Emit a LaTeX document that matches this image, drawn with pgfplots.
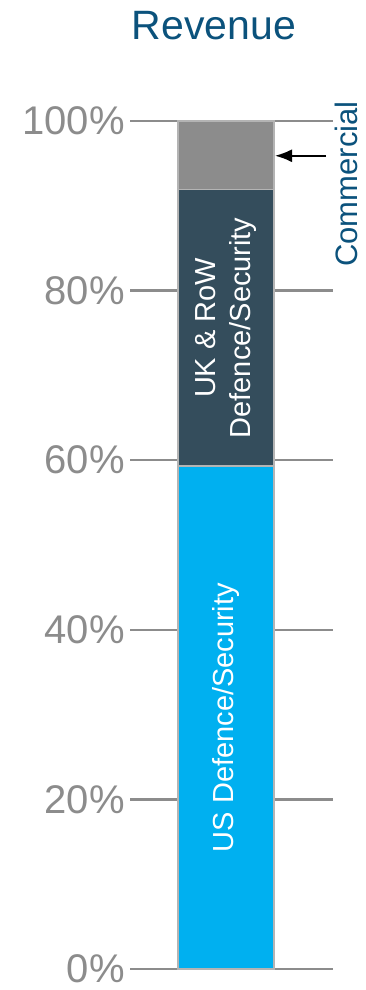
\documentclass[border=0pt]{standalone}
\usepackage{fontspec}
\setmainfont{Liberation Sans}
\usepackage{pgfplots}
\pgfplotsset{compat=1.18}
\usetikzlibrary{arrows.meta}
\definecolor{revblue}{HTML}{0B527C}
\definecolor{gridgray}{HTML}{8C8C8C}
\definecolor{comgray}{HTML}{8C8C8C}
\definecolor{ukdark}{HTML}{344D5C}
\definecolor{uscyan}{HTML}{00B0F0}
\definecolor{edgegray}{HTML}{B4B4B4}
\begin{document}
\begin{tikzpicture}
\path[use as bounding box] (0,0) rectangle (366bp,990bp);
\node[text=revblue, font=\fontsize{41bp}{48bp}\selectfont] at (214bp,964bp) {Revenue};
\node[text=revblue, rotate=90, font=\fontsize{31bp}{36bp}\selectfont] at (346bp,806bp) {Commercial};
\begin{axis}[
  at={(130bp,21bp)}, anchor=south west,
  scale only axis, width=203bp, height=848bp,
  xmin=0, xmax=203, ymin=0, ymax=100,
  clip=false,
  axis line style={draw=none},
  tick style={draw=none},
  xtick=\empty,
  ytick={0,20,40,60,80,100},
  yticklabels={0\%,20\%,40\%,60\%,80\%,100\%},
  yticklabel style={text=gridgray, font=\fontsize{40bp}{48bp}\selectfont, inner sep=0pt, xshift=-5bp},
  ymajorgrids,
  grid style={draw=gridgray, line width=2.5bp},
  ybar stacked, bar width=96bp, bar shift=0pt,
]
\addplot[fill=uscyan, draw=edgegray, line width=1.5bp] coordinates {(96,59.3)};
\addplot[fill=ukdark, draw=edgegray, line width=1.5bp] coordinates {(96,32.6)};
\addplot[fill=comgray, draw=edgegray, line width=1.5bp] coordinates {(96,8.1)};
\coordinate (us) at (axis cs:96,29.65);
\coordinate (uk) at (axis cs:96,75.6);
\coordinate (arrA) at (axis cs:196,95.9);
\coordinate (arrB) at (axis cs:145,95.9);
\end{axis}
\node[text=white, rotate=90, font=\fontsize{29bp}{34bp}\selectfont] at (us) {US Defence/Security};
\node[text=white, rotate=90, align=center, font=\fontsize{29bp}{35bp}\selectfont] at (uk) {UK \& RoW\\Defence/Security};
\draw[-{Latex[length=17bp,width=13bp]}, black, line width=1.8bp] (arrA) -- (arrB);
\end{tikzpicture}
\end{document}
